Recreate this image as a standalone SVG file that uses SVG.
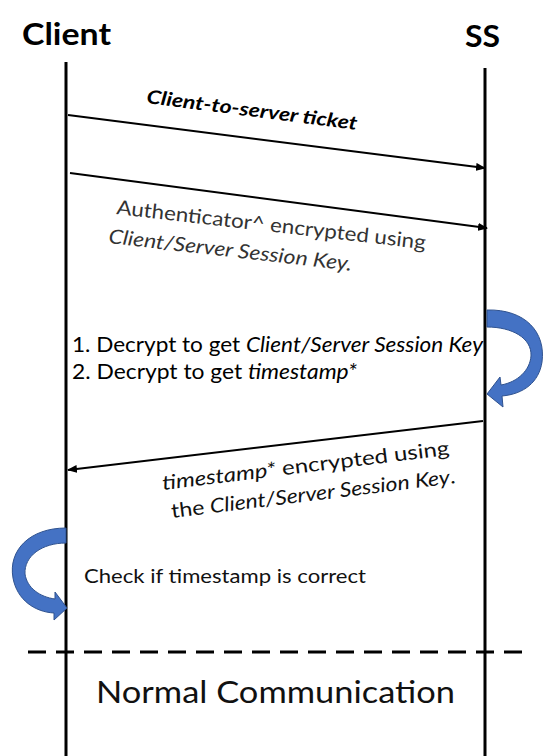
<svg xmlns="http://www.w3.org/2000/svg" width="543" height="756" viewBox="0 0 543 756">
<defs>
<style>
.t{font-family:Lato,"Open Sans","Liberation Sans",sans-serif;}
.life{stroke:#000;stroke-width:3;fill:none;}
.msg{stroke:#000;stroke-width:2;fill:none;}
.loop{fill:#4472C4;stroke:#2F528F;stroke-width:1;}
</style>
<marker id="ah" markerWidth="10" markerHeight="8" refX="9" refY="4" orient="auto" markerUnits="userSpaceOnUse">
<path d="M0,0 L10,4 L0,8 Z" fill="#000"/>
</marker>
</defs>
<rect width="543" height="756" fill="#fff"/>
<g id="client">
<text class="t" x="22" y="45" font-size="31" font-weight="bold" textLength="89" lengthAdjust="spacingAndGlyphs">Client</text>
<line class="life" x1="66" y1="62" x2="66" y2="756"/>
</g>
<g id="ss">
<text class="t" x="465" y="47" font-size="31" font-weight="bold" textLength="35" lengthAdjust="spacingAndGlyphs">SS</text>
<line class="life" x1="485" y1="68" x2="485" y2="756"/>
</g>
<g id="connectors">
<line class="msg" x1="68" y1="115" x2="485" y2="168" marker-end="url(#ah)"/>
<line class="msg" x1="70" y1="173" x2="487" y2="228" marker-end="url(#ah)"/>
<line class="msg" x1="483" y1="421" x2="68" y2="470" marker-end="url(#ah)"/>
<path class="loop" d="M 487,310 C 525,309 546,332 542,362 C 539,382 524,394 502,396 L 503,407 L 487,394 L 500,377 L 501,385 C 518,382 530,370 531,356 C 532,338 512,327 487,327 Z"/>
<path class="loop" d="M 66,528 C 30,528 8,550 13,578 C 17,600 35,612 54,613 L 54,620 L 67,608 L 55,592 L 55,599 C 40,597 27,588 25,574 C 24,556 42,543 66,543 Z"/>
</g>
<g id="labels">
<text class="t" transform="translate(146,103) rotate(7.3)" font-size="19" font-weight="bold" font-style="italic" textLength="212" lengthAdjust="spacingAndGlyphs">Client-to-server ticket</text>
<text class="t" transform="translate(116,214) rotate(6.5)" font-size="20" fill="#333" textLength="311" lengthAdjust="spacingAndGlyphs">Authenticator^ encrypted using</text>
<text class="t" transform="translate(108,243) rotate(6.5)" font-size="20" font-style="italic" fill="#333" textLength="245" lengthAdjust="spacingAndGlyphs">Client/Server Session Key.</text>
<text class="t" x="72" y="352" font-size="20.5" textLength="411" lengthAdjust="spacingAndGlyphs">1. Decrypt to get <tspan font-style="italic">Client/Server Session Key</tspan></text>
<text class="t" x="72" y="379" font-size="20.5" textLength="285" lengthAdjust="spacingAndGlyphs">2. Decrypt to get <tspan font-style="italic">timestamp*</tspan></text>
<text class="t" transform="translate(163,490) rotate(-7)" font-size="20" fill="#111" textLength="289" lengthAdjust="spacingAndGlyphs"><tspan font-style="italic">timestamp*</tspan> encrypted using</text>
<text class="t" transform="translate(172,518) rotate(-7)" font-size="20" fill="#111" textLength="286" lengthAdjust="spacingAndGlyphs">the <tspan font-style="italic">Client/Server Session Key</tspan>.</text>
<text class="t" x="84" y="583" font-size="18.5" fill="#111" textLength="282" lengthAdjust="spacingAndGlyphs">Check if timestamp is correct</text>
<line x1="28" y1="652" x2="530" y2="652" stroke="#000" stroke-width="3" stroke-dasharray="18,10"/>
<text class="t" x="96" y="703" font-size="31" fill="#111" textLength="359" lengthAdjust="spacingAndGlyphs">Normal Communication</text>
</g>
</svg>
